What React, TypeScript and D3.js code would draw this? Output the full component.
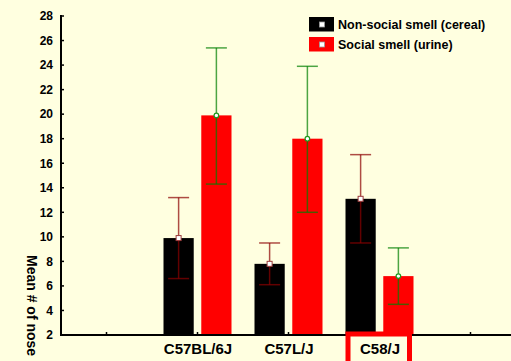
import React from "react";
import * as d3 from "d3";

// Strains and the two smell conditions
const strains = ["C57BL/6J", "C57L/J", "C58/J"];
const seriesKeys = ["cereal", "urine"];
const seriesNames = ["Non-social smell (cereal)", "Social smell (urine)"];

// Mean number of nose pokes with error-bar limits
const cerealMean = [9.9, 7.8, 13.1];
const cerealUpper = [13.2, 9.5, 16.7];
const cerealLower = [6.6, 6.1, 9.5];
const urineMean = [19.9, 18.0, 6.8];
const urineUpper = [25.4, 23.9, 9.1];
const urineLower = [14.3, 12.0, 4.5];

const yTicks = [2, 4, 6, 8, 10, 12, 14, 16, 18, 20, 22, 24, 26, 28];
const highlighted = "C58/J";

const W = 511;
const H = 361;
const BG = "#FFFFE0";
const FONT = "Arial, 'Liberation Sans', Helvetica, sans-serif";

export default function App() {
  const x = d3.scaleLinear().domain([-0.5, 4.5]).range([61, 516]);
  const y = d3.scaleLinear().domain([2, 28]).range([335, 16]);
  const sub = d3.scaleBand<string>().domain(seriesKeys).range([-34, 34]).paddingInner(0.2);

  const series = [
    { key: "cereal", mean: cerealMean, hi: cerealUpper, lo: cerealLower, fill: "#000000", whisker: "#8B0000", marker: "square" },
    { key: "urine", mean: urineMean, hi: urineUpper, lo: urineLower, fill: "#FF0000", whisker: "#007F00", marker: "circle" },
  ];

  const slotIndex = (i: number) => i + 1;
  const xTickSlots = d3.range(0, 5);
  const capHalf = 10.5;

  return (
    <svg width={W} height={H} style={{ position: "absolute", left: 0, top: 0, display: "block" }}>
      <rect x={0} y={0} width={W} height={H} fill={BG} />

      {/* bars */}
      {series.map((s) =>
        strains.map((st, i) => {
          const cx = x(slotIndex(i));
          const bx = cx + (sub(s.key) as number);
          return (
            <rect
              key={s.key + st}
              x={bx}
              y={y(s.mean[i])}
              width={sub.bandwidth()}
              height={y(2) - y(s.mean[i])}
              fill={s.fill}
            />
          );
        })
      )}

      {/* error bars and mean markers */}
      {series.map((s) =>
        strains.map((st, i) => {
          const cx = x(slotIndex(i)) + (sub(s.key) as number) + sub.bandwidth() / 2;
          const yH = y(s.hi[i]);
          const yL = y(s.lo[i]);
          const yM = y(s.mean[i]);
          return (
            <g key={"e" + s.key + st} stroke={s.whisker} strokeOpacity={0.7} strokeWidth={1.5}>
              <line x1={cx} x2={cx} y1={yH} y2={yL} />
              <line x1={cx - capHalf} x2={cx + capHalf} y1={yH} y2={yH} />
              <line x1={cx - capHalf} x2={cx + capHalf} y1={yL} y2={yL} />
              {s.marker === "square" ? (
                <rect x={cx - 2.5} y={yM - 2.5} width={5} height={5} fill="#FFFFFF" stroke="#9B3B3B" strokeOpacity={1} strokeWidth={1} />
              ) : (
                <circle cx={cx} cy={yM} r={2.3} fill="#FFFFFF" stroke="#1E9A1E" strokeOpacity={1} strokeWidth={1.2} />
              )}
            </g>
          );
        })
      )}

      {/* y axis */}
      <line x1={61} x2={61} y1={y(28) - 1} y2={y(2) + 1} stroke="#000" strokeWidth={2} />
      {yTicks.map((t) => (
        <g key={"yt" + t}>
          <line x1={61} x2={64} y1={y(t)} y2={y(t)} stroke="#000" strokeWidth={1.5} />
          <text
            x={53}
            y={y(t)}
            dy="0.36em"
            textAnchor="end"
            fontFamily={FONT}
            fontWeight="bold"
            fontSize={12}
            fill="#000"
          >
            {t}
          </text>
        </g>
      ))}

      {/* x axis */}
      <line x1={60} x2={W} y1={y(2)} y2={y(2)} stroke="#000" strokeWidth={2} />
      {xTickSlots.map((k) => (
        <line key={"xt" + k} x1={x(k)} x2={x(k)} y1={y(2)} y2={y(2) - 3} stroke="#000" strokeWidth={1.5} />
      ))}

      {/* highlight around one strain label */}
      {strains.map((st, i) =>
        st === highlighted ? (
          <rect
            key={"hl" + st}
            x={x(slotIndex(i)) - 31.5}
            y={y(2) - 1}
            width={61.5}
            height={40}
            fill={BG}
            stroke="#FF0000"
            strokeWidth={5}
          />
        ) : null
      )}

      {/* strain labels */}
      {strains.map((st, i) => (
        <text
          key={"xl" + st}
          x={x(slotIndex(i)) + 0.5}
          y={354}
          textAnchor="middle"
          fontFamily={FONT}
          fontWeight="bold"
          fontSize={15}
          fill="#000"
        >
          {st}
        </text>
      ))}

      {/* y axis title, running off the bottom edge */}
      <text
        transform={`translate(27, 255) rotate(90)`}
        fontFamily={FONT}
        fontWeight="bold"
        fontSize={14}
        fill="#000"
      >
        Mean # of nose pokes
      </text>

      {/* legend */}
      {series.map((s, k) => {
        const ly = 17 + k * 20;
        return (
          <g key={"lg" + s.key}>
            <rect x={309} y={ly} width={25} height={14.5} fill={s.fill} />
            <rect x={319.5} y={ly + 5} width={5} height={5} fill="#FFFFFF" stroke="#999" strokeWidth={0.8} />
            <text
              x={338}
              y={ly + 7.5}
              dy="0.36em"
              fontFamily={FONT}
              fontWeight="bold"
              fontSize={12.5}
              fill="#000"
            >
              {seriesNames[k]}
            </text>
          </g>
        );
      })}
    </svg>
  );
}
